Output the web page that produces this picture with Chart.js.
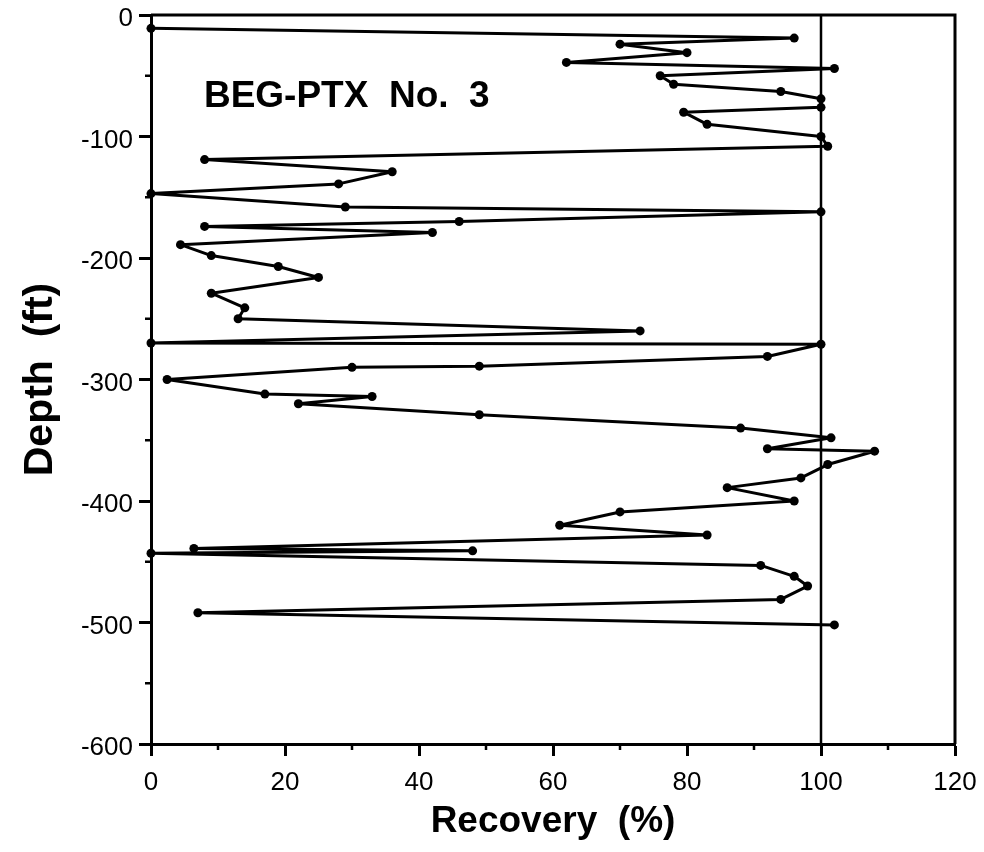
<!DOCTYPE html>
<html>
<head>
<meta charset="utf-8">
<script src="https://cdn.jsdelivr.net/npm/chart.js@4"></script>
<style>
  html, body { margin: 0; padding: 0; background: #fff; }
</style>
</head>
<body>
<canvas id="myChart" width="984" height="852"></canvas>
<script>
// recovery (%) vs depth (ft)
const recovery = [0, 96, 70, 80, 62, 102, 76, 78, 94, 100, 100, 79.5, 83, 100, 101,
    8, 36, 28, 0, 29, 100, 46, 8, 42, 4.4, 9, 19, 25, 9, 14, 13, 73,
    0, 100, 92, 49, 30, 2.4, 17, 33, 22, 49, 88, 101.5, 92, 108, 101, 97, 86, 96,
    70, 61, 83, 6.4, 48, 0, 91, 96, 98, 94, 7, 102];
const depth = [-11, -19, -24, -31, -39, -44, -50, -57, -63, -69, -76, -80, -90, -100, -108,
    -119, -129, -139, -147, -158, -162, -170, -174, -179, -189, -198, -207, -216, -229, -241, -250, -260,
    -270, -271, -281, -289, -290, -300, -312, -314, -320, -329, -340, -348, -357, -359, -370, -381, -389, -400,
    -409, -420, -428, -439, -441, -443, -453, -462, -470, -481, -492, -502];

// 100 % reference line
const refX = [100, 100];
const refY = [0, -600];

const xTicksMinor = [10, 30, 50, 70, 90, 110];
const yTicksMinor = [-50, -150, -250, -350, -450, -550];

const wellName = 'BEG-PTX  No.  3';

function toPoints(xs, ys) {
    return xs.map(function (v, i) { return { x: v, y: ys[i] }; });
}

const boxPlugin = {
    id: 'boxPlugin',
    afterDraw: function (chart) {
        const ctx = chart.ctx;
        const a = chart.chartArea;
        const xs = chart.scales.x;
        const ys = chart.scales.y;
        ctx.save();
        ctx.strokeStyle = '#000';
        ctx.lineWidth = 3;
        ctx.beginPath();
        ctx.moveTo(a.left, a.top);
        ctx.lineTo(a.right, a.top);
        ctx.lineTo(a.right, a.bottom);
        ctx.stroke();

        // minor ticks
        ctx.lineWidth = 2.5;
        ctx.beginPath();
        xTicksMinor.forEach(function (v) {
            const px = xs.getPixelForValue(v);
            ctx.moveTo(px, a.bottom);
            ctx.lineTo(px, a.bottom + 6);
        });
        yTicksMinor.forEach(function (v) {
            const py = ys.getPixelForValue(v);
            ctx.moveTo(a.left, py);
            ctx.lineTo(a.left - 6, py);
        });
        ctx.stroke();

        // well name
        ctx.fillStyle = '#000';
        ctx.font = 'bold 37px "Liberation Sans", Arial, sans-serif';
        ctx.textAlign = 'left';
        ctx.textBaseline = 'middle';
        ctx.fillText(wellName, xs.getPixelForValue(7.9), ys.getPixelForValue(-67));
        ctx.restore();
    }
};

let ctx = document.getElementById('myChart').getContext('2d');

let wykres = new Chart(ctx, {
    type: 'scatter',
    data: {
        datasets: [{
            label: 'Recovery',
            data: toPoints(recovery, depth),
            showLine: true,
            clip: false,
            borderColor: '#000',
            backgroundColor: '#000',
            borderWidth: 3,
            borderJoinStyle: 'round',
            borderCapStyle: 'round',
            pointRadius: 4.5,
            pointBorderWidth: 0,
            tension: 0
        }, {
            label: '100%',
            data: toPoints(refX, refY),
            showLine: true,
            borderColor: '#000',
            borderWidth: 2.5,
            pointRadius: 0
        }]
    },
    options: {
        responsive: false,
        animation: false,
        layout: { padding: { top: 15, right: 29, left: 0, bottom: 0 } },
        plugins: {
            legend: { display: false },
            tooltip: { enabled: false }
        },
        scales: {
            x: {
                type: 'linear',
                position: 'bottom',
                min: 0,
                max: 120,
                afterFit: function (scale) {
                    scale.height = 108;
                    scale.paddingLeft = 0;
                    scale.paddingRight = 0;
                },
                ticks: {
                    stepSize: 20,
                    color: '#000',
                    padding: 11,
                    font: { family: '"Liberation Sans", Arial, sans-serif', size: 26 }
                },
                grid: {
                    drawOnChartArea: false,
                    drawTicks: true,
                    tickLength: 12,
                    tickWidth: 3,
                    tickColor: '#000'
                },
                border: { display: true, width: 3, color: '#000' },
                title: {
                    display: true,
                    text: 'Recovery  (%)',
                    color: '#000',
                    padding: { top: 0, bottom: 8 },
                    font: { family: '"Liberation Sans", Arial, sans-serif', size: 37, weight: 'bold' }
                }
            },
            y: {
                type: 'linear',
                min: -600,
                max: 0,
                afterFit: function (scale) {
                    scale.width = 151;
                    scale.paddingTop = 0;
                    scale.paddingBottom = 0;
                },
                ticks: {
                    stepSize: 100,
                    color: '#000',
                    padding: 6,
                    labelOffset: 4,
                    font: { family: '"Liberation Sans", Arial, sans-serif', size: 26 }
                },
                grid: {
                    drawOnChartArea: false,
                    drawTicks: true,
                    tickLength: 12,
                    tickWidth: 3,
                    tickColor: '#000'
                },
                border: { display: true, width: 3, color: '#000' },
                title: {
                    display: true,
                    text: 'Depth  (ft)',
                    color: '#000',
                    padding: { top: 16, bottom: 0 },
                    font: { family: '"Liberation Sans", Arial, sans-serif', size: 41, weight: 'bold' }
                }
            }
        }
    },
    plugins: [boxPlugin]
});
</script>
</body>
</html>
